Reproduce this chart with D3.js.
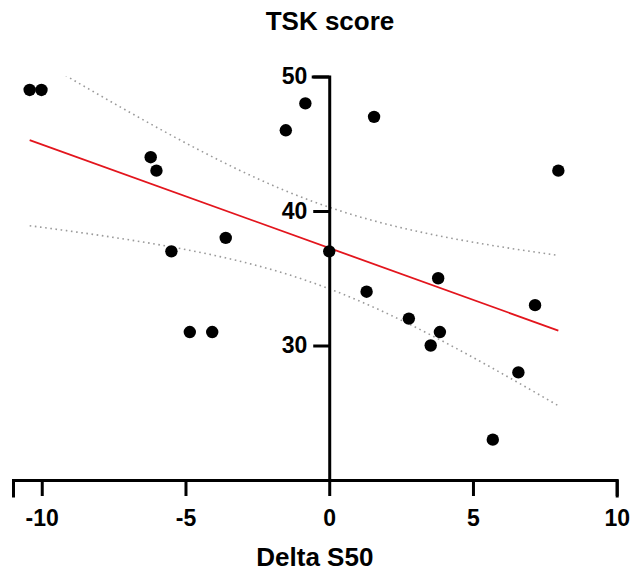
<!DOCTYPE html>
<html>
<head>
<meta charset="utf-8">
<script src="https://cdn.jsdelivr.net/npm/d3@7"></script>
<style>
  html, body { margin: 0; padding: 0; background: #fff; }
  svg { display: block; font-family: "Liberation Sans", Arial, sans-serif; }
</style>
</head>
<body>
<svg id="chart" width="631" height="571"></svg>
<script>
// ---- data ----
const deltaS50 = [-10.42, -10.01, -6.21, -6.01, -5.49, -4.85, -4.07, -3.60, -1.51, -0.83, 0.00,
                  1.30, 1.56, 2.77, 3.53, 3.79, 3.85, 5.69, 6.58, 7.16, 7.97];
const tskScore = [49, 49, 44, 43, 37, 31, 31, 38, 46, 48, 37,
                  34, 47, 32, 30, 35, 31, 23, 28, 33, 43];
const xTicks = [-10, -5, 0, 5, 10];
const yTicks = [30, 40, 50];
const xDomain = [-11, 10];
const yDomain = [20, 50];
const titleText = "TSK score";
const xLabelText = "Delta S50";
const tCrit = 2.093; // t(0.975, df = n - 2 = 19)

const svg = d3.select("#chart");
const W = 631, H = 571;
const margin = { left: 13, right: 14.3, top: 76.5, bottom: 91 };

const x = d3.scaleLinear().domain(xDomain).range([margin.left, W - margin.right]);
const y = d3.scaleLinear().domain(yDomain).range([H - margin.bottom, margin.top]);

// ---- linear regression and 95% confidence band ----
const pts = deltaS50.map((v, i) => ({ x: v, y: tskScore[i] }));
const n = pts.length;
const mx = d3.mean(pts, d => d.x), my = d3.mean(pts, d => d.y);
const sxx = d3.sum(pts, d => (d.x - mx) ** 2);
const sxy = d3.sum(pts, d => (d.x - mx) * (d.y - my));
const slope = sxy / sxx, intercept = my - slope * mx;
const sse = d3.sum(pts, d => (d.y - (intercept + slope * d.x)) ** 2);
const s = Math.sqrt(sse / (n - 2));
const [xmin, xmax] = d3.extent(deltaS50);
const grid = d3.range(0, 101).map(i => xmin + (xmax - xmin) * i / 100);
const band = grid.map(gx => {
  const fit = intercept + slope * gx;
  const hw = tCrit * s * Math.sqrt(1 / n + (gx - mx) ** 2 / sxx);
  return { x: gx, lo: fit - hw, hi: fit + hw, fit };
});

svg.append("defs").append("clipPath").attr("id", "plotClip")
  .append("rect")
  .attr("x", x(xDomain[0])).attr("y", y(yDomain[1]))
  .attr("width", x(xDomain[1]) - x(xDomain[0]))
  .attr("height", y(yDomain[0]) - y(yDomain[1]));

const plot = svg.append("g").attr("clip-path", "url(#plotClip)");
const lineGen = key => d3.line().x(d => x(d.x)).y(d => y(d[key]));

["hi", "lo"].forEach(k => {
  plot.append("path").datum(band)
    .attr("d", lineGen(k))
    .attr("fill", "none")
    .attr("stroke", "#9a9a9a")
    .attr("stroke-width", 1.6)
    .attr("stroke-dasharray", "1.6,3.6");
});

plot.append("path").datum([band[0], band[band.length - 1]])
  .attr("d", lineGen("fit"))
  .attr("fill", "none")
  .attr("stroke", "#e3151d")
  .attr("stroke-width", 1.8);

// ---- axes ----
const fontTick = "23px";
const fmt = d => String(d); // plain hyphen-minus like the reference
const xAxis = svg.append("g")
  .attr("transform", `translate(0,${y(yDomain[0])})`)
  .call(d3.axisBottom(x).tickValues(xTicks).tickFormat(fmt).tickSizeOuter(0).tickSize(16).tickPadding(14));
const yAxis = svg.append("g")
  .attr("transform", `translate(${x(0)},0)`)
  .call(d3.axisLeft(y).tickValues(yTicks).tickFormat(fmt).tickSizeOuter(0).tickSize(16).tickPadding(6));

[xAxis, yAxis].forEach(g => {
  g.select(".domain").attr("stroke", "#000").attr("stroke-width", 3).attr("stroke-linecap", "square");
  g.selectAll(".tick line").attr("stroke", "#000").attr("stroke-width", 3);
  g.selectAll(".tick text")
    .attr("fill", "#000")
    .style("font-family", '"Liberation Sans", Arial, sans-serif')
    .style("font-size", fontTick)
    .style("font-weight", "bold");
});

// ---- points ----
svg.append("g").selectAll("circle").data(pts).join("circle")
  .attr("cx", d => x(d.x))
  .attr("cy", d => y(d.y))
  .attr("r", 6.2)
  .attr("fill", "#000");

// ---- titles ----
svg.append("text")
  .attr("x", 330).attr("y", 30)
  .attr("text-anchor", "middle")
  .style("font-size", "26px").style("font-weight", "bold")
  .text(titleText);

svg.append("text")
  .attr("x", x((xDomain[0] + xDomain[1]) / 2)).attr("y", 566)
  .attr("text-anchor", "middle")
  .style("font-size", "26px").style("font-weight", "bold")
  .text(xLabelText);
</script>
</body>
</html>
